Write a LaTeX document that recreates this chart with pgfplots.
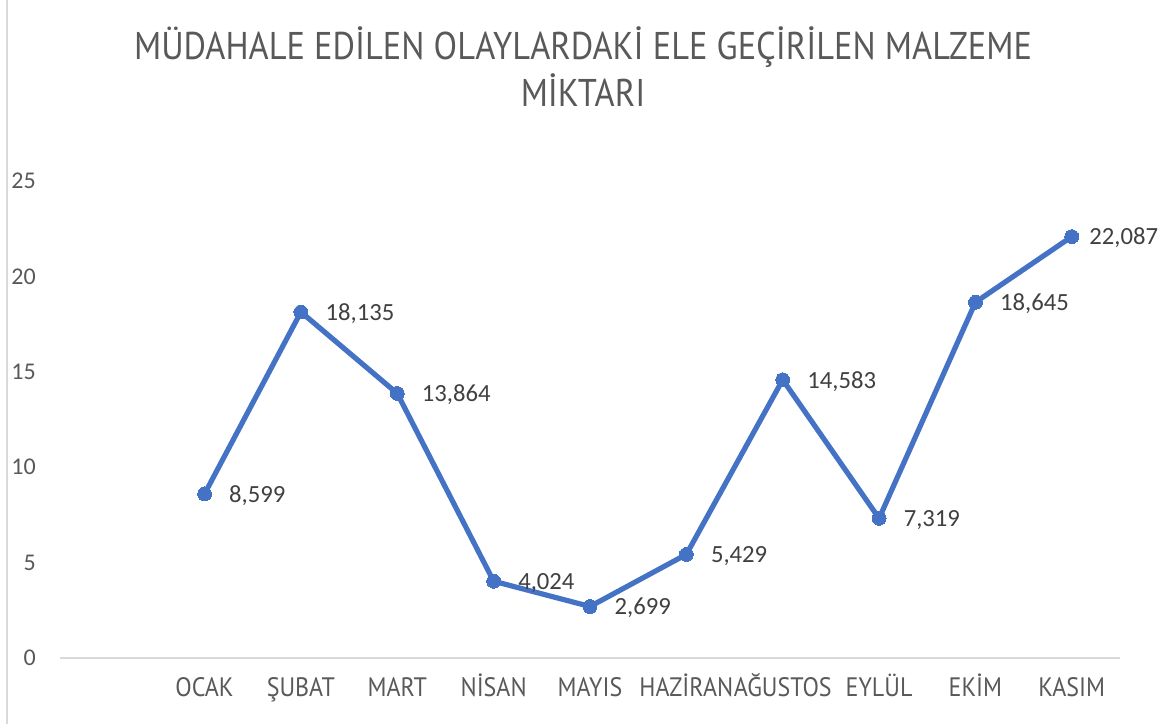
\documentclass[border=0pt]{standalone}
\usepackage{pgfplots}
\pgfplotsset{compat=1.18}
\usepackage{fontspec}
\setmainfont{Carlito}
\newfontfamily\tfont[FakeStretch=0.89]{PT Sans}
\newfontfamily\xfont[FakeStretch=0.9]{PT Sans}
\definecolor{txt}{HTML}{595959}
\definecolor{dtxt}{HTML}{404040}
\definecolor{ln}{HTML}{4472C4}
\definecolor{axc}{HTML}{D9D9D9}
\begin{document}
\begin{tikzpicture}
\useasboundingbox (0pt,0pt) rectangle (873pt,543pt);
\draw[axc, line width=1.5pt] (5.25pt,0pt) -- (5.25pt,543pt);
\node[txt, font=\tfont\fontsize{29}{35}\selectfont, anchor=base] at (437.25pt,498pt) {MÜDAHALE EDİLEN OLAYLARDAKİ ELE GEÇİRİLEN MALZEME};
\node[txt, font=\tfont\fontsize{29}{35}\selectfont, anchor=base] at (437.25pt,462.75pt) {MİKTARI};
\begin{axis}[
  at={(45pt,49.5pt)}, anchor=south west,
  scale only axis, width=795pt, height=357.75pt,
  xmin=-0.5, xmax=10.5, ymin=0, ymax=25,
  axis line style={draw=none},
  tick style={draw=none},
  ytick={0,5,10,15,20,25},
  xtick={1,2,3,4,5,6,7,8,9,10},
  xticklabels={OCAK,ŞUBAT,MART,NİSAN,MAYIS,HAZİRAN,AĞUSTOS,EYLÜL,EKİM,KASIM},
  yticklabel style={font=\fontsize{18}{22}\selectfont, text=txt, inner sep=0pt, anchor=east, xshift=-18pt},
  xticklabel style={font=\xfont\fontsize{20}{24}\selectfont, text=txt, inner sep=0pt, anchor=base, yshift=-29pt},
  /pgf/number format/assume math mode=true,
  clip=false,
]
\draw[axc, line width=1.5pt] (axis cs:-0.5,0) -- (axis cs:10.5,0);
\addplot[ln, line width=3.9pt, mark=*, mark size=5.2pt, mark options={fill=ln, draw=ln, line width=0pt},
  point meta=explicit symbolic,
  nodes near coords,
  nodes near coords style={font=\fontsize{18.5}{22}\selectfont, text=dtxt, inner sep=0pt, anchor=base west, xshift=18.5pt, yshift=-6.3pt},
] coordinates {
(1,8.599) [8,599]
(2,18.135) [18,135]
(3,13.864) [13,864]
(4,4.024) [4,024]
(5,2.699) [2,699]
(6,5.429) [5,429]
(7,14.583) [14,583]
(8,7.319) [7,319]
(9,18.645) [18,645]
(10,22.087) []
};
\addplot[draw=none, mark=none,
  point meta=explicit symbolic,
  nodes near coords,
  nodes near coords style={font=\fontsize{18.5}{22}\selectfont, text=dtxt, inner sep=0pt, anchor=base west, xshift=13pt, yshift=-6.3pt},
] coordinates {
(10,22.087) [22,087]
};
\end{axis}
\end{tikzpicture}
\end{document}
